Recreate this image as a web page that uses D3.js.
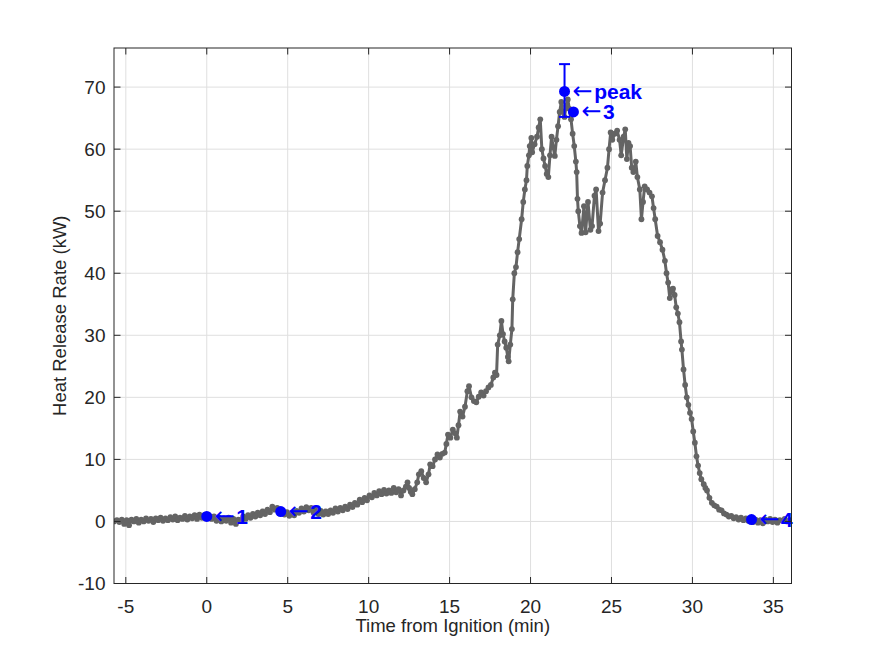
<!DOCTYPE html>
<html>
<head>
<meta charset="utf-8">
<script src="https://cdn.jsdelivr.net/npm/d3@7"></script>
<style>
  body { margin: 0; background: #fff; }
  text { font-family: "Liberation Sans", Arial, sans-serif; }
</style>
</head>
<body>
<div id="chart"></div>
<script>
// heat release trace, [time (min), HRR (kW)]
var hrrTrace = [
  [-5.73,0.0],[-5.55,0.2],[-5.4,-0.1],[-5.25,0.3],[-5.1,-0.4],[-4.95,0.2],[-4.8,-0.6],[-4.65,0.3],[-4.5,0.0],[-4.35,0.4],
  [-4.2,-0.2],[-4.05,0.3],[-3.9,0.0],[-3.75,0.5],[-3.6,0.1],[-3.45,0.4],[-3.3,-0.1],[-3.15,0.5],[-3.0,0.2],[-2.85,0.6],
  [-2.7,0.1],[-2.55,0.5],[-2.4,0.2],[-2.25,0.7],[-2.1,0.3],[-1.95,0.8],[-1.8,0.2],[-1.65,0.6],[-1.5,0.4],[-1.35,0.9],
  [-1.2,0.3],[-1.05,0.8],[-0.9,0.5],[-0.75,1.0],[-0.6,0.4],[-0.45,1.1],[-0.3,0.6],[-0.15,1.0],[0.0,0.6],[0.15,0.9],
  [0.3,0.4],[0.45,0.8],[0.6,0.1],[0.75,0.6],[0.9,0.0],[1.05,0.5],[1.2,0.1],[1.35,0.6],[1.5,-0.2],[1.65,0.4],
  [1.8,-0.4],[1.95,0.3],[2.1,0.2],[2.25,0.8],[2.4,0.4],[2.55,1.0],[2.7,0.6],[2.85,1.2],[3.0,0.8],[3.15,1.4],
  [3.3,1.0],[3.45,1.6],[3.6,1.2],[3.75,1.9],[3.9,1.5],[4.05,2.4],[4.2,1.9],[4.35,2.2],[4.5,1.5],[4.65,1.8],
  [4.8,1.1],[4.95,1.5],[5.1,0.9],[5.25,1.4],[5.4,1.0],[5.55,1.7],[5.7,1.4],[5.85,2.1],[6.0,1.6],[6.15,2.3],
  [6.3,1.8],[6.45,2.2],[6.6,1.4],[6.75,1.9],[6.9,1.2],[7.05,1.7],[7.2,1.1],[7.35,1.6],[7.5,1.2],[7.65,1.8],
  [7.8,1.4],[7.95,2.1],[8.1,1.6],[8.25,2.2],[8.4,1.8],[8.55,2.4],[8.7,2.0],[8.85,2.7],[9.0,2.3],[9.15,3.0],
  [9.3,2.7],[9.45,3.5],[9.6,3.1],[9.75,3.8],[9.9,3.4],[10.05,4.2],[10.2,3.9],[10.35,4.6],[10.5,4.2],[10.65,4.9],
  [10.8,4.4],[10.95,5.1],[11.1,4.5],[11.25,5.0],[11.4,4.6],[11.55,5.4],[11.7,4.7],[11.85,5.2],[12.0,4.2],[12.15,5.0],
  [12.3,5.6],[12.4,6.3],[12.5,5.4],[12.6,4.8],[12.7,4.4],[12.85,5.2],[13.0,6.3],[13.1,7.6],[13.25,8.1],[13.4,7.0],
  [13.55,6.3],[13.7,7.6],[13.8,9.2],[13.95,8.9],[14.1,10.0],[14.25,10.8],[14.4,10.3],[14.55,10.9],[14.7,11.1],[14.8,12.5],
  [14.9,14.0],[15.05,13.5],[15.2,14.8],[15.35,14.2],[15.45,13.5],[15.55,15.5],[15.65,17.7],[15.8,16.9],[15.95,18.5],[16.1,21.0],
  [16.2,21.8],[16.35,20.0],[16.5,19.4],[16.65,19.2],[16.8,20.1],[16.95,20.8],[17.1,20.3],[17.25,21.0],[17.4,21.6],[17.55,22.0],
  [17.7,23.2],[17.8,24.0],[17.9,23.6],[17.97,28.5],[18.1,30.0],[18.2,32.3],[18.3,30.2],[18.4,29.0],[18.5,28.0],[18.6,26.5],
  [18.65,25.8],[18.75,28.5],[18.85,31.0],[18.9,35.8],[19.0,40.0],[19.1,41.0],[19.2,43.4],[19.3,45.5],[19.45,48.7],[19.55,51.5],
  [19.65,53.5],[19.75,55.0],[19.8,57.3],[19.9,59.0],[19.95,60.5],[20.05,61.8],[20.1,59.5],[20.25,60.8],[20.4,62.0],[20.5,63.5],
  [20.6,64.8],[20.7,60.0],[20.8,58.5],[20.9,57.3],[21.0,56.0],[21.1,55.5],[21.2,59.0],[21.3,62.0],[21.4,60.3],[21.5,58.9],
  [21.6,61.5],[21.7,63.7],[21.8,66.0],[21.9,67.6],[22.0,66.0],[22.1,65.2],[22.2,67.0],[22.3,68.0],[22.4,66.5],[22.5,64.8],
  [22.6,62.5],[22.7,60.5],[22.8,58.0],[22.85,56.3],[22.9,52.0],[22.95,50.0],[23.05,47.6],[23.15,46.5],[23.3,50.8],[23.4,46.6],
  [23.55,51.5],[23.7,47.0],[23.8,47.6],[23.95,52.5],[24.05,53.5],[24.2,46.8],[24.3,48.0],[24.45,53.0],[24.6,55.0],[24.75,57.0],
  [24.85,60.0],[24.95,62.7],[25.05,61.5],[25.2,62.5],[25.35,63.0],[25.5,61.5],[25.6,59.0],[25.75,62.0],[25.85,63.2],[25.95,58.4],
  [26.05,61.0],[26.15,60.5],[26.25,57.0],[26.35,56.3],[26.5,58.0],[26.6,55.5],[26.75,53.5],[26.85,48.7],[26.95,51.5],[27.05,54.0],
  [27.2,53.5],[27.35,53.0],[27.5,52.4],[27.6,50.5],[27.7,48.7],[27.85,46.0],[28.0,45.0],[28.15,43.8],[28.3,42.0],[28.4,40.0],
  [28.5,38.5],[28.6,36.0],[28.7,37.4],[28.8,37.5],[28.9,36.5],[29.0,34.5],[29.1,33.5],[29.2,32.1],[29.3,29.0],[29.35,27.7],
  [29.45,24.5],[29.55,22.0],[29.65,20.0],[29.75,18.8],[29.85,17.5],[29.95,16.5],[30.05,14.5],[30.15,12.7],[30.25,10.5],[30.35,9.0],
  [30.45,7.8],[30.55,6.8],[30.7,6.0],[30.8,5.4],[30.9,5.0],[31.05,3.8],[31.2,3.0],[31.35,2.6],[31.5,2.4],[31.65,1.9],
  [31.8,1.8],[31.95,1.3],[32.1,1.1],[32.25,0.8],[32.4,0.9],[32.55,0.5],[32.7,0.7],[32.85,0.3],[33.0,0.6],[33.15,0.2],
  [33.3,0.5],[33.45,0.1],[33.6,0.4],[33.75,-0.1],[33.9,0.3],[34.05,-0.2],[34.2,0.2],[34.35,-0.3],[34.5,0.3],[34.65,0.0],
  [34.8,0.4],[34.95,-0.1],[35.1,0.3],[35.25,-0.2],[35.4,0.2],[35.55,0.1],[35.7,0.4],[35.85,0.0],[36.0,0.2]
];

// labelled points
var markTimes  = [0, 4.57, 22.1, 22.65, 33.65];
var markValues = [0.8, 1.6, 69.3, 66.0, 0.3];
var markLabels = ["1", "2", "peak", "3", "4"];

// error bar on the peak
var peakLow = 65.2, peakHigh = 73.7;

// axes
var xTicks = [-5, 0, 5, 10, 15, 20, 25, 30, 35];
var yTicks = [-10, 0, 10, 20, 30, 40, 50, 60, 70];
var xDomain = [-5.73, 36.12];
var yDomain = [-10, 76.3];

var W = 875, H = 656;
var margin = {top: 48, right: 83.5, bottom: 72.5, left: 114},
  width = W - margin.left - margin.right,
  height = H - margin.top - margin.bottom;

var axisColor = "#262626";
var traceColor = "#646464";

var svg = d3.select("#chart")
  .append("svg")
    .attr("width", W)
    .attr("height", H)
  .append("g")
    .attr("transform", "translate(" + margin.left + "," + margin.top + ")");

var x = d3.scaleLinear().domain(xDomain).range([0, width]);
var y = d3.scaleLinear().domain(yDomain).range([height, 0]);

// grid
svg.append("g")
  .selectAll("line")
  .data(xTicks)
  .join("line")
    .attr("x1", d => x(d)).attr("x2", d => x(d))
    .attr("y1", 0).attr("y2", height)
    .attr("stroke", "#dfdfdf").attr("stroke-width", 1);
svg.append("g")
  .selectAll("line")
  .data(yTicks)
  .join("line")
    .attr("y1", d => y(d)).attr("y2", d => y(d))
    .attr("x1", 0).attr("x2", width)
    .attr("stroke", "#dfdfdf").attr("stroke-width", 1);

svg.append("clipPath").attr("id", "plotclip")
  .append("rect").attr("width", width).attr("height", height);

var plot = svg.append("g").attr("clip-path", "url(#plotclip)");

// trace line + dots
var line = d3.line().x(d => x(d[0])).y(d => y(d[1]));
plot.append("path")
  .datum(hrrTrace)
  .attr("d", line)
  .attr("fill", "none")
  .attr("stroke", traceColor)
  .attr("stroke-width", 3)
  .attr("stroke-linejoin", "round");
plot.append("g")
  .selectAll("circle")
  .data(hrrTrace)
  .join("circle")
    .attr("cx", d => x(d[0]))
    .attr("cy", d => y(d[1]))
    .attr("r", 2.9)
    .attr("fill", traceColor);

// error bar at the peak
var eb = svg.append("g").attr("stroke", "#0000ff").attr("stroke-width", 2);
var pkx = x(markTimes[2]);
eb.append("line").attr("x1", pkx).attr("x2", pkx).attr("y1", y(peakLow)).attr("y2", y(peakHigh));
eb.append("line").attr("x1", pkx - 5.5).attr("x2", pkx + 5.5).attr("y1", y(peakLow)).attr("y2", y(peakLow));
eb.append("line").attr("x1", pkx - 5.5).attr("x2", pkx + 5.5).attr("y1", y(peakHigh)).attr("y2", y(peakHigh));

// markers
var marks = markTimes.map((t, i) => ({t: t, v: markValues[i], label: markLabels[i]}));
svg.append("g")
  .selectAll("circle")
  .data(marks)
  .join("circle")
    .attr("cx", d => x(d.t))
    .attr("cy", d => y(d.v))
    .attr("r", 5.5)
    .attr("fill", "#0000ff");

// labels "← n"
var lab = svg.append("g")
  .selectAll("text")
  .data(marks)
  .join("text")
    .attr("x", d => x(d.t) + 8)
    .attr("y", d => y(d.v))
    .attr("dy", "0.36em")
    .attr("fill", "#0000ff")
    .style("font-size", "21px");
lab.append("tspan")
  .style("font-family", "'DejaVu Sans', sans-serif")
  .style("font-size", "24px")
  .text("\u2190");
lab.append("tspan")
  .attr("dx", 1.5)
  .style("font-weight", "bold")
  .text(d => d.label);

// box
svg.append("rect")
  .attr("width", width).attr("height", height)
  .attr("fill", "none").attr("stroke", axisColor).attr("stroke-width", 1);

// ticks (inside, all four sides)
var tl = 6.5;
var tk = svg.append("g").attr("stroke", axisColor).attr("stroke-width", 1);
xTicks.forEach(function(t) {
  tk.append("line").attr("x1", x(t)).attr("x2", x(t)).attr("y1", height).attr("y2", height - tl);
  tk.append("line").attr("x1", x(t)).attr("x2", x(t)).attr("y1", 0).attr("y2", tl);
});
yTicks.forEach(function(t) {
  tk.append("line").attr("y1", y(t)).attr("y2", y(t)).attr("x1", 0).attr("x2", tl);
  tk.append("line").attr("y1", y(t)).attr("y2", y(t)).attr("x1", width).attr("x2", width - tl);
});

// tick labels
svg.append("g")
  .selectAll("text")
  .data(xTicks)
  .join("text")
    .attr("x", d => x(d))
    .attr("y", height + 29.5)
    .attr("text-anchor", "middle")
    .attr("fill", axisColor)
    .style("font-size", "19px")
    .text(d => d);
svg.append("g")
  .selectAll("text")
  .data(yTicks)
  .join("text")
    .attr("x", -8.5)
    .attr("y", d => y(d))
    .attr("dy", "0.36em")
    .attr("text-anchor", "end")
    .attr("fill", axisColor)
    .style("font-size", "19px")
    .text(d => d);

// axis titles
svg.append("text")
  .attr("x", width / 2)
  .attr("y", height + 48.5)
  .attr("text-anchor", "middle")
  .attr("fill", axisColor)
  .style("font-size", "18.5px")
  .text("Time from Ignition (min)");
svg.append("text")
  .attr("transform", "translate(" + (-48) + "," + (height / 2) + ") rotate(-90)")
  .attr("text-anchor", "middle")
  .attr("fill", axisColor)
  .style("font-size", "18.5px")
  .text("Heat Release Rate (kW)");
</script>
</body>
</html>
